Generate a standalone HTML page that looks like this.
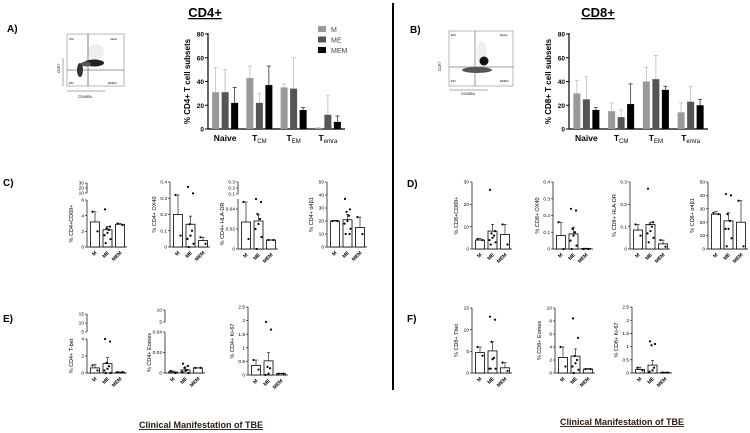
<!DOCTYPE html>
<html><head><meta charset="utf-8">
<style>
html,body{margin:0;padding:0;background:#fff;}
svg{display:block;font-family:"Liberation Sans",Arial,sans-serif;}
</style></head>
<body>
<svg id="fig" width="750" height="433" viewBox="0 0 750 433" xmlns="http://www.w3.org/2000/svg">
  <line x1="393" y1="3" x2="393" y2="390" stroke="#000" stroke-width="2"/>
  <text x="205" y="17" font-size="13" font-weight="bold" text-anchor="middle" text-decoration="underline">CD4+</text>
  <text x="598" y="17" font-size="13" font-weight="bold" text-anchor="middle" text-decoration="underline">CD8+</text>
  <text x="7" y="32" font-size="10" font-weight="bold">A)</text>
  <text x="410" y="33" font-size="10" font-weight="bold">B)</text>
  <text x="3" y="186" font-size="10" font-weight="bold">C)</text>
  <text x="407" y="187" font-size="10" font-weight="bold">D)</text>
  <text x="3" y="322" font-size="10" font-weight="bold">E)</text>
  <text x="407" y="322" font-size="10" font-weight="bold">F)</text>
  <text x="201" y="428" font-size="9" font-weight="bold" text-anchor="middle" text-decoration="underline" fill="#2a1a10">Clinical Manifestation of TBE</text>
  <text x="622" y="425" font-size="9" font-weight="bold" text-anchor="middle" text-decoration="underline" fill="#2a1a10">Clinical Manifestation of TBE</text>
  <!-- flow plots -->
  <g>
    <rect x="67" y="34" width="57" height="52" fill="#fff" stroke="#888" stroke-width="0.6"/>
    <ellipse cx="96" cy="52" rx="8" ry="8" fill="#eee"/>
    <line x1="88" y1="34" x2="88" y2="86" stroke="#333" stroke-width="0.6"/>
    <line x1="67" y1="70" x2="124" y2="70" stroke="#333" stroke-width="0.6"/>
    <ellipse cx="94" cy="63" rx="10" ry="3.5" fill="#222"/>
    <ellipse cx="80" cy="70" rx="3" ry="7" fill="#333"/>
    <ellipse cx="86" cy="64" rx="5" ry="2.5" fill="#555"/>
    <text x="69" y="40" font-size="3">CM</text><text x="110" y="40" font-size="3">naive</text>
    <text x="69" y="84" font-size="3">EM</text><text x="108" y="84" font-size="3">EMRA</text>
    <line x1="67" y1="91" x2="105" y2="91" stroke="#555" stroke-width="0.5"/>
    <line x1="63" y1="86" x2="63" y2="58" stroke="#555" stroke-width="0.5"/>
    <text x="78" y="98" font-size="3.5">CD45RA</text>
    <text x="60" y="73" font-size="3.5" transform="rotate(-90 60 73)">CCR7</text>
  </g>
  <g>
    <rect x="449" y="31" width="64" height="55" fill="#fff" stroke="#888" stroke-width="0.6"/>
    <ellipse cx="482" cy="55" rx="5" ry="14" fill="#eee"/>
    <line x1="475" y1="31" x2="475" y2="86" stroke="#555" stroke-width="0.6"/>
    <line x1="449" y1="67" x2="513" y2="67" stroke="#333" stroke-width="0.6"/>
    <circle cx="484" cy="61" r="4.5" fill="#111"/>
    <ellipse cx="477" cy="70" rx="15" ry="3" fill="#555"/>
    <text x="451" y="36" font-size="3">EM</text><text x="500" y="36" font-size="3">Naive</text>
    <text x="451" y="82" font-size="3">EM</text><text x="500" y="82" font-size="3">EMRA</text>
    <line x1="449" y1="90" x2="488" y2="90" stroke="#555" stroke-width="0.5"/>
    <text x="461" y="95" font-size="3.5">CD45RA</text>
    <text x="441" y="71" font-size="3.5" transform="rotate(-90 441 71)">CCR7</text>
  </g>
  <g id="plots"></g>
</svg>
<script>
// ---- main grouped bar charts ----
const subsetLabels = ["Naive","T_CM","T_EM","T_emra"];
const groupNames = ["M","ME","MEM"];
const cd4Means = [[31,43,35,1],[31,22,34,12],[22,37,16,6]];
const cd4ErrTop = [[52,53,38,1],[50,30,60,28],[35,53,18,11]];
const cd8Means = [[30,15,40,14],[25,10,42,23],[16,21,33,20]];
const cd8ErrTop = [[41,22,52,22],[44,16,62,36],[18,38,36,25]];
const mainTicks = [0,20,40,60,80];

// ---- small dot-bar panels ----
const catLabels = ["M","ME","MEM"];
const c1Means=[3.2,2.2,2.9], c1Err=[4.5,2.6,3.0], c1Dots=[[4.5,2],[4.8,2.6,2.4,2.2,1.8,1.5,1.0,0.5],[3,2.8]];
const c2Means=[0.2,0.14,0.04], c2Err=[0.32,0.19,0.06], c2Dots=[[0.32,0.07],[0.37,0.33,0.14,0.1,0.07,0.05,0.02,0],[0.06,0.02]];
const c3Means=[0.027,0.028,0.009], c3Err=[0.047,0.034,0.009], c3Dots=[[0.047,0.01],[0.052,0.047,0.035,0.03,0.025,0.02,0.012,0],[0.009,0.009]];
const c4Means=[20,21,15], c4Err=[20.5,25,23], c4Dots=[[20,20],[37,29,27,24,20,18,14,10,10],[23,10]];
const d1Means=[4,8,6.5], d1Err=[4.8,11,11], d1Dots=[[4.5,4],[26.5,8,7,6,5,4,3,2],[11,2]];
const d2Means=[0.08,0.09,0.003], d2Err=[0.16,0.13,0.005], d2Dots=[[0.16,0],[0.24,0.23,0.12,0.1,0.08,0.05,0.02,0],[0,0]];
const d3Means=[0.085,0.11,0.023], d3Err=[0.11,0.12,0.04], d3Dots=[[0.11,0.06],[0.27,0.12,0.11,0.1,0.08,0.07,0.05,0.03],[0.04,0.01]];
const d4Means=[26,21,20], d4Err=[28,27,36], d4Dots=[[27,26],[41,40,26,21,15,15,8,2],[36,2]];
const e1Means=[0.6,1.1,0.1], e1Err=[1,1.8,0.1], e1Dots=[[0.9,0.3],[4.5,3.7,1.2,0.8,0.5,0.3,0,0],[0.1,0.1]];
const e2Means=[0.001,0.003,0.005], e2Err=[0.002,0.006,0.005], e2Dots=[[0.002,0],[0.009,0.007,0.005,0.003,0.002,0.001,0],[0.005,0.005]];
const e3Means=[0.35,0.52,0.05], e3Err=[0.55,0.82,0.06], e3Dots=[[0.55,0.2],[1.95,1.67,0.3,0.25,0.05,0],[0.05,0.05]];
const f1Means=[4.7,5.1,1.2], f1Err=[6,7.2,2.4], f1Dots=[[6,4],[13,12.3,7.2,3.5,3.2,1,1,1],[2.4,0.5]];
const f2Means=[2.4,2.6,0.6], f2Err=[4,3.7,0.7], f2Dots=[[4,1],[8.4,5.4,2.6,2,1.5,1,0.5,0],[0.6,0.6]];
const f3Means=[0.13,0.3,0.02], f3Err=[0.22,0.47,0.03], f3Dots=[[0.2,0.1],[1.2,1.1,1.05,0.2,0.1,0.05],[0.02,0.02]];
const ticks6=[0,2,4,6], ticksOx=[0,0.1,0.2,0.3,0.4], ticksHla4=[0,0.02,0.04], ticks50=[0,10,20,30,40,50];
const ticks30=[0,10,20,30], ticksHla3=[0,0.1,0.2,0.3], ticksTbet4=[0,2,4], ticksEo=[0,0.02,0.04];
const ticksKi=[0,0.5,1.0,1.5,2.0,2.5], ticks15=[0,5,10,15], ticks10=[0,2,4,6,8,10];

const NS="http://www.w3.org/2000/svg";
const root=document.getElementById('plots');
function mk(tag,attrs,parent){const e=document.createElementNS(NS,tag);for(const k in attrs)e.setAttribute(k,attrs[k]);(parent||root).appendChild(e);return e;}
function fmt(v){ return String(v); }

function mainChart(prefix, ax, x1, y0, yt, means, errs, ylab){
  const g=mk('g',{});
  
  
  const ys=v=>y0-(v/80)*(y0-yt);
  mk('line',{x1:ax,y1:yt-1,x2:ax,y2:y0,stroke:'#000','stroke-width':1.2},g);
  mk('line',{x1:ax,y1:y0,x2:x1,y2:y0,stroke:'#000','stroke-width':1.2},g);
  mainTicks.forEach(t=>{
    mk('line',{x1:ax-3,y1:ys(t),x2:ax,y2:ys(t),stroke:'#000','stroke-width':1},g);
    const tx=mk('text',{x:ax-4,y:ys(t)+2.5,'font-size':6.5,'font-weight':'bold','text-anchor':'end'},g);tx.textContent=t;
  });
  const yl=mk('text',{x:ax-18,y:(y0+yt)/2,'font-size':8,'font-weight':'bold','text-anchor':'middle',transform:`rotate(-90 ${ax-18} ${(y0+yt)/2})`},g);
  yl.textContent=ylab;
  
  
  const cols=['#999','#555','#000'];
  const grpW=(x1-ax)/subsetLabels.length;
  subsetLabels.forEach((s,i)=>{
    const c=ax+grpW*(i+0.5);
    for(let k=0;k<3;k++){
      const bx=c+(k-1)*9.5-3.5;
      const ec=cols[k]==='#000'?'#333':'#bbb';
      mk('line',{x1:bx+3.5,y1:ys(errs[k][i]),x2:bx+3.5,y2:ys(means[k][i]),stroke:ec,'stroke-width':0.8},g);
      mk('line',{x1:bx+1.5,y1:ys(errs[k][i]),x2:bx+5.5,y2:ys(errs[k][i]),stroke:ec,'stroke-width':0.8},g);
      const r=mk('rect',{x:bx,y:ys(means[k][i]),width:7,height:y0-ys(means[k][i]),fill:cols[k]},g);
      
      
    }
    const parts=s.split('_');
    const t=mk('text',{x:c,y:y0+12,'font-size':8.5,'font-weight':'bold','text-anchor':'middle'},g);
    
    
    const a=mk('tspan',{},t);a.textContent=parts[0];
    if(parts[1]){const b=mk('tspan',{'font-size':6,'font-weight':'normal',dy:2},t);b.textContent=parts[1];}
  });
}
mainChart('cd4',208,345,129,34,cd4Means,cd4ErrTop,'% CD4+ T cell subsets');
mainChart('cd8',569,708,129,34,cd8Means,cd8ErrTop,'% CD8+ T cell subsets');
// legend
const legCols=['#999','#555','#000'];
groupNames.forEach((n,i)=>{
  const y=26+i*10.5;
  const r=mk('rect',{x:318,y:y,width:8,height:6,fill:legCols[i]});
  
  
  const t=mk('text',{x:331,y:y+6,'font-size':7,fill:'#444'});t.textContent=n;
  
  
});

const jit=[-2.5,2.5,-1,1.5,0,-3,3,-1.8,2];
function small(name, ax, y0, yt, ticks, vmax, means, errs, dots, ylab, brk){
  const g=mk('g',{});
  
  
  const ys=v=>y0-(v/vmax)*(y0-yt);
  mk('line',{x1:ax,y1:yt,x2:ax,y2:y0,stroke:'#000','stroke-width':0.7},g);
  mk('line',{x1:ax,y1:y0,x2:ax+40,y2:y0,stroke:'#000','stroke-width':0.7},g);
  ticks.forEach(t=>{
    mk('line',{x1:ax-2,y1:ys(t),x2:ax,y2:ys(t),stroke:'#000','stroke-width':0.6},g);
    const tx=mk('text',{x:ax-3,y:ys(t)+1.6,'font-size':4.8,'text-anchor':'end'},g);tx.textContent=fmt(t);
  });
  if(brk){
    mk('line',{x1:ax,y1:brk.y1,x2:ax,y2:brk.y2,stroke:'#000','stroke-width':0.7},g);
    brk.labels.forEach((l,i)=>{
      const y=brk.y1+(brk.y2-brk.y1)*i/(brk.labels.length-1);
      mk('line',{x1:ax-2,y1:y,x2:ax,y2:y,stroke:'#000','stroke-width':0.6},g);
      const tx=mk('text',{x:ax-3,y:y+1.6,'font-size':4.8,'text-anchor':'end'},g);tx.textContent=l;
    });
  }
  const yl=mk('text',{x:ax-14,y:(y0+yt)/2,'font-size':5.5,'text-anchor':'middle',transform:`rotate(-90 ${ax-14} ${(y0+yt)/2})`},g);
  yl.textContent=ylab;
  catLabels.forEach((c,i)=>{
    const cx=ax+8+i*12.5;
    const r=mk('rect',{x:cx-4.5,y:ys(means[i]),width:9,height:Math.max(0.3,y0-ys(means[i])),fill:'#fff',stroke:'#000','stroke-width':0.8},g);
    
    
    mk('line',{x1:cx,y1:ys(errs[i]),x2:cx,y2:ys(means[i]),stroke:'#000','stroke-width':0.6},g);
    mk('line',{x1:cx-1.5,y1:ys(errs[i]),x2:cx+1.5,y2:ys(errs[i]),stroke:'#000','stroke-width':0.6},g);
    dots[i].forEach((d,j)=>{
      const p=mk('circle',{cx:cx+jit[j%jit.length],cy:ys(Math.min(d,vmax)),r:1.1,fill:'#000'},g);
      
      
    });
    const t=mk('text',{x:cx+2,y:y0+6,'font-size':5,'font-weight':'bold','text-anchor':'end',transform:`rotate(-45 ${cx+2} ${y0+6})`},g);
    t.textContent=c;
  });
}
small('cd4-cd69-plot',87,247,200,ticks6,6,c1Means,c1Err,c1Dots,'% CD4+CD69+',{y1:183,y2:193,labels:['30','20','10']});
small('cd4-ox40-plot',170,247,182,ticksOx,0.4,c2Means,c2Err,c2Dots,'% CD4+ OX40');
small('cd4-hladr-plot',238,249,199,ticksHla4,0.05,c3Means,c3Err,c3Dots,'% CD4+ HLA-DR',{y1:182,y2:194,labels:['0.3','0.2','0.1']});
small('cd4-a4b1-plot',327,247,182,ticks50,50,c4Means,c4Err,c4Dots,'% CD4+ α4β1');
small('cd8-cd69-plot',472,249,182,ticks30,30,d1Means,d1Err,d1Dots,'% CD8+CD69+');
small('cd8-ox40-plot',553,249,182,ticksOx,0.4,d2Means,d2Err,d2Dots,'% CD8+ OX40');
small('cd8-hladr-plot',630,249,182,ticksHla3,0.3,d3Means,d3Err,d3Dots,'% CD8+ HLA-DR');
small('cd8-a4b1-plot',708,249,182,ticks50,50,d4Means,d4Err,d4Dots,'% CD8+ α4β1');
small('cd4-tbet-plot',87,373,339,ticksTbet4,4,e1Means,e1Err,e1Dots,'% CD4+ T-bet',{y1:314,y2:332,labels:['15','10','5']});
small('cd4-eomes-plot',165,373,332,ticksEo,0.04,e2Means,e2Err,e2Dots,'% CD4+ Eomes',{y1:310,y2:322,labels:['10','5']});
small('cd4-ki67-plot',248,375,307,ticksKi,2.5,e3Means,e3Err,e3Dots,'% CD4+ Ki-67');
small('cd8-tbet-plot',472,373,308,ticks15,15,f1Means,f1Err,f1Dots,'% CD8+ Tbet');
small('cd8-eomes-plot',555,373,308,ticks10,10,f2Means,f2Err,f2Dots,'% CD8+ Eomes');
small('cd8-ki67-plot',632,373,307,ticksKi,2.5,f3Means,f3Err,f3Dots,'% CD8+ Ki-67');
</script>
</body></html>
